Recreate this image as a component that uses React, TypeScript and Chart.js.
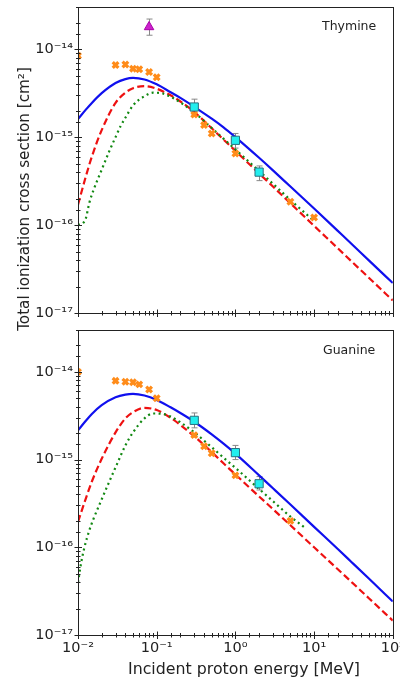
import React, { useEffect, useRef } from "react";
import { Chart, registerables } from "chart.js";

Chart.register(...registerables);

// ---------- Thymine ----------
const T_BLUE_E = [0.01, 0.0125, 0.015, 0.02, 0.03, 0.04, 0.05, 0.07, 0.1, 0.15, 0.2, 0.3, 0.5, 0.7, 1, 2, 3, 5, 10, 20, 30, 50, 100];
const T_BLUE_S = [1.6e-15, 2.04e-15, 2.45e-15, 3.16e-15, 4.12e-15, 4.57e-15, 4.71e-15, 4.52e-15, 3.98e-15, 3.24e-15, 2.79e-15, 2.21e-15, 1.62e-15, 1.3e-15, 1.0e-15, 5.82e-16, 4.19e-16, 2.74e-16, 1.54e-16, 8.59e-17, 6.1e-17, 3.94e-17, 2.19e-17];
const T_RED_E = [0.01, 0.0125, 0.015, 0.02, 0.03, 0.04, 0.05, 0.07, 0.1, 0.15, 0.2, 0.3, 0.5, 0.7, 1, 2, 3, 5, 10, 20, 30, 50, 100];
const T_RED_S = [1.7e-16, 3.5e-16, 6.0e-16, 1.2e-15, 2.45e-15, 3.2e-15, 3.6e-15, 3.8e-15, 3.55e-15, 2.99e-15, 2.54e-15, 1.93e-15, 1.26e-15, 9.44e-16, 6.97e-16, 3.86e-16, 2.74e-16, 1.77e-16, 9.8e-17, 5.44e-17, 3.85e-17, 2.5e-17, 1.39e-17];
const T_GREEN_E = [0.01, 0.0115, 0.0125, 0.014, 0.016, 0.019, 0.025, 0.03, 0.035, 0.04, 0.05, 0.07, 0.09, 0.12, 0.15, 0.2, 0.3, 0.5, 0.7, 1, 2, 3, 5, 10];
const T_GREEN_S = [1.0e-16, 1.05e-16, 1.17e-16, 1.82e-16, 2.6e-16, 3.8e-16, 6.92e-16, 1.0e-15, 1.35e-15, 1.66e-15, 2.29e-15, 2.92e-15, 3.2e-15, 3.13e-15, 2.88e-15, 2.48e-15, 1.91e-15, 1.27e-15, 9.66e-16, 7.24e-16, 4.12e-16, 2.95e-16, 1.93e-16, 1.11e-16];
const T_ORANGE_E = [0.01, 0.03, 0.04, 0.05, 0.06, 0.08, 0.1, 0.3, 0.4, 0.5, 1, 5, 10];
const T_ORANGE_S = [8.4e-15, 6.6e-15, 6.7e-15, 6.0e-15, 5.9e-15, 5.5e-15, 4.8e-15, 1.8e-15, 1.37e-15, 1.1e-15, 6.5e-16, 1.84e-16, 1.22e-16];
const T_CYAN_E = [0.3, 1, 2];
const T_CYAN_S = [2.2e-15, 9.2e-16, 4.0e-16];
const T_CYAN_LO = [1.8e-15, 7.5e-16, 3.2e-16];
const T_CYAN_HI = [2.7e-15, 1.1e-15, 4.7e-16];
const T_MAG_E = [0.08];
const T_MAG_S = [1.79e-14];
const T_MAG_LO = [1.44e-14];
const T_MAG_HI = [2.2e-14];

// ---------- Guanine ----------
const G_BLUE_E = [0.01, 0.0125, 0.015, 0.02, 0.03, 0.04, 0.05, 0.07, 0.1, 0.15, 0.2, 0.3, 0.5, 0.7, 1, 2, 3, 5, 10, 20, 30, 50, 100];
const G_BLUE_S = [2.15e-15, 2.75e-15, 3.31e-15, 4.17e-15, 5.13e-15, 5.5e-15, 5.6e-15, 5.37e-15, 4.79e-15, 3.94e-15, 3.39e-15, 2.7e-15, 1.94e-15, 1.53e-15, 1.17e-15, 6.61e-16, 4.71e-16, 3.07e-16, 1.71e-16, 9.55e-17, 6.76e-17, 4.37e-17, 2.41e-17];
const G_RED_E = [0.01, 0.0125, 0.015, 0.02, 0.03, 0.04, 0.05, 0.07, 0.1, 0.15, 0.2, 0.3, 0.5, 0.7, 1, 2, 3, 5, 10, 20, 30, 50, 100];
const G_RED_S = [1.95e-16, 3.55e-16, 5.62e-16, 1.02e-15, 2.04e-15, 2.95e-15, 3.47e-15, 3.89e-15, 3.67e-15, 2.99e-15, 2.48e-15, 1.84e-15, 1.22e-15, 9.12e-16, 6.76e-16, 3.8e-16, 2.72e-16, 1.78e-16, 1.0e-16, 5.62e-17, 4.01e-17, 2.61e-17, 1.46e-17];
const G_GREEN_E = [0.01, 0.011, 0.012, 0.014, 0.016, 0.019, 0.025, 0.031, 0.04, 0.05, 0.07, 0.09, 0.12, 0.15, 0.2, 0.3, 0.5, 0.7, 1, 2, 3, 5, 8];
const G_GREEN_S = [3.98e-17, 6.76e-17, 9.77e-17, 1.58e-16, 2.19e-16, 3.16e-16, 5.62e-16, 8.71e-16, 1.45e-15, 2.04e-15, 2.95e-15, 3.35e-15, 3.31e-15, 3.09e-15, 2.66e-15, 2.04e-15, 1.38e-15, 1.06e-15, 8.04e-16, 4.62e-16, 3.35e-16, 2.24e-16, 1.62e-16];
const G_ORANGE_E = [0.01, 0.03, 0.04, 0.05, 0.06, 0.08, 0.1, 0.3, 0.4, 0.5, 1, 5];
const G_ORANGE_S = [1.0e-14, 7.9e-15, 7.7e-15, 7.6e-15, 7.2e-15, 6.3e-15, 5.0e-15, 1.9e-15, 1.42e-15, 1.18e-15, 6.6e-16, 2.0e-16];
const G_CYAN_E = [0.3, 1, 2];
const G_CYAN_S = [2.8e-15, 1.2e-15, 5.3e-16];
const G_CYAN_LO = [2.3e-15, 1.0e-15, 4.5e-16];
const G_CYAN_HI = [3.4e-15, 1.45e-15, 6.4e-16];

// axis limits and labels
const X_MIN = 0.01;
const X_MAX = 100;
const Y_MIN = 1e-17;
const Y_MAX = 3e-14;
const PANEL_LABELS = ["Thymine", "Guanine"];
const X_TITLE = "Incident proton energy [MeV]";
const Y_TITLE = "Total ionization cross section [cm\u00B2]";

const FONT = "'DejaVu Sans', sans-serif";
const SUP: Record<string, string> = { "-": "\u207B", "0": "\u2070", "1": "\u00B9", "2": "\u00B2", "3": "\u00B3", "4": "\u2074", "5": "\u2075", "6": "\u2076", "7": "\u2077", "8": "\u2078", "9": "\u2079" };
const sup = (s: string) => s.split("").map((c) => SUP[c] ?? c).join("");
const isDecade = (v: number) => {
  const l = Math.log10(v);
  return Math.abs(l - Math.round(l)) < 1e-6;
};
const decadeLabel = (v: number) => (isDecade(v) ? "10" + sup(String(Math.round(Math.log10(v)))) : "");

const pts = (xs: number[], ys: number[]) => xs.map((x, i) => ({ x, y: ys[i] }));

const axesPlugin = {
  id: "axesFrame",
  beforeDatasetsDraw(chart: any) {
    const { ctx } = chart;
    const xs = chart.scales.x;
    const ys = chart.scales.y;
    ctx.save();
    ctx.strokeStyle = "#888888";
    ctx.lineWidth = 1;
    chart.data.datasets.forEach((ds: any) => {
      if (!ds.errLo) return;
      ds.data.forEach((p: any, i: number) => {
        const px = Math.round(xs.getPixelForValue(p.x)) + 0.5;
        const y1 = ys.getPixelForValue(ds.errLo[i]);
        const y2 = ys.getPixelForValue(ds.errHi[i]);
        ctx.beginPath();
        ctx.moveTo(px, y1);
        ctx.lineTo(px, y2);
        ctx.moveTo(px - 3, y1);
        ctx.lineTo(px + 3, y1);
        ctx.moveTo(px - 3, y2);
        ctx.lineTo(px + 3, y2);
        ctx.stroke();
      });
    });
    ctx.restore();
  },
  afterDraw(chart: any) {
    const { ctx, chartArea: a } = chart;
    const xs = chart.scales.x;
    const ys = chart.scales.y;
    ctx.save();
    ctx.strokeStyle = "#222222";
    ctx.lineWidth = 1;
    ctx.strokeRect(Math.round(a.left) + 0.5, Math.round(a.top) + 0.5, Math.round(a.right - a.left), Math.round(a.bottom - a.top));
    ctx.beginPath();
    xs.ticks.forEach((t: any) => {
      const px = Math.round(xs.getPixelForValue(t.value)) + 0.5;
      const len = isDecade(t.value) ? 3.5 : 2;
      ctx.moveTo(px, a.bottom - len);
      ctx.lineTo(px, a.bottom + len + 0.5);
    });
    ys.ticks.forEach((t: any) => {
      const py = Math.round(ys.getPixelForValue(t.value)) + 0.5;
      const len = isDecade(t.value) ? 3.5 : 2;
      ctx.moveTo(a.left - len, py);
      ctx.lineTo(a.left + len + 0.5, py);
    });
    ctx.stroke();
    ctx.restore();
  },
};

type Panel = {
  blue: [number[], number[]];
  red: [number[], number[]];
  green: [number[], number[]];
  orange: [number[], number[]];
  cyan: [number[], number[], number[], number[]];
  mag?: [number[], number[], number[], number[]];
};

function makeConfig(p: Panel, showXLabels: boolean, xHeight: number, topPad: number): any {
  const datasets: any[] = [];
  if (p.mag) {
    datasets.push({
      data: pts(p.mag[0], p.mag[1]),
      errLo: p.mag[2],
      errHi: p.mag[3],
      pointStyle: "triangle",
      pointRadius: 5.5,
      backgroundColor: "#cc22cc",
      borderColor: "#aa00aa",
      borderWidth: 1,
      showLine: false,
    });
  }
  datasets.push({
    data: pts(p.cyan[0], p.cyan[1]),
    errLo: p.cyan[2],
    errHi: p.cyan[3],
    pointStyle: "rect",
    pointRadius: 5.8,
    backgroundColor: "#22eeee",
    borderColor: "#2a7080",
    borderWidth: 1,
    showLine: false,
  });
  datasets.push({
    data: pts(p.orange[0], p.orange[1]),
    pointStyle: "crossRot",
    pointRadius: 4,
    borderColor: "#ff8c1a",
    backgroundColor: "#ff8c1a",
    borderWidth: 3.2,
    showLine: false,
  });
  datasets.push({
    data: pts(p.green[0], p.green[1]),
    showLine: true,
    pointRadius: 0,
    borderColor: "#118811",
    borderWidth: 2.2,
    borderDash: [2, 3.4],
    cubicInterpolationMode: "monotone",
  });
  datasets.push({
    data: pts(p.red[0], p.red[1]),
    showLine: true,
    pointRadius: 0,
    borderColor: "#ee1111",
    borderWidth: 2.2,
    borderDash: [7, 3.5],
    cubicInterpolationMode: "monotone",
  });
  datasets.push({
    data: pts(p.blue[0], p.blue[1]),
    showLine: true,
    pointRadius: 0,
    borderColor: "#1010ee",
    borderWidth: 2.2,
    cubicInterpolationMode: "monotone",
  });

  return {
    type: "scatter",
    data: { datasets },
    options: {
      animation: false,
      responsive: false,
      devicePixelRatio: 1,
      layout: { padding: { top: topPad, right: 7, left: 0, bottom: 0 } },
      plugins: { legend: { display: false }, tooltip: { enabled: false } },
      scales: {
        x: {
          type: "logarithmic",
          min: X_MIN,
          max: X_MAX,
          grid: { display: false, drawTicks: false },
          border: { display: false },
          ticks: {
            display: showXLabels,
            autoSkip: false,
            maxRotation: 0,
            padding: 5,
            color: "#222222",
            font: { family: FONT, size: 14.5 },
            callback: (v: any) => decadeLabel(Number(v)),
          },
          afterFit: (s: any) => {
            s.height = xHeight;
            s.paddingLeft = 0;
            s.paddingRight = 0;
          },
        },
        y: {
          type: "logarithmic",
          min: Y_MIN,
          max: Y_MAX,
          grid: { display: false, drawTicks: false },
          border: { display: false },
          ticks: {
            autoSkip: false,
            padding: 5,
            color: "#222222",
            font: { family: FONT, size: 14.5 },
            callback: (v: any) => decadeLabel(Number(v)),
          },
          afterFit: (s: any) => {
            s.width = 78;
            s.paddingTop = 0;
            s.paddingBottom = 0;
          },
        },
      },
    },
    plugins: [axesPlugin],
  };
}

export default function App() {
  const ref1 = useRef<HTMLCanvasElement>(null);
  const ref2 = useRef<HTMLCanvasElement>(null);

  useEffect(() => {
    const c1 = new Chart(
      ref1.current!,
      makeConfig(
        {
          blue: [T_BLUE_E, T_BLUE_S],
          red: [T_RED_E, T_RED_S],
          green: [T_GREEN_E, T_GREEN_S],
          orange: [T_ORANGE_E, T_ORANGE_S],
          cyan: [T_CYAN_E, T_CYAN_S, T_CYAN_LO, T_CYAN_HI],
          mag: [T_MAG_E, T_MAG_S, T_MAG_LO, T_MAG_HI],
        },
        false,
        9,
        6
      )
    );
    const c2 = new Chart(
      ref2.current!,
      makeConfig(
        {
          blue: [G_BLUE_E, G_BLUE_S],
          red: [G_RED_E, G_RED_S],
          green: [G_GREEN_E, G_GREEN_S],
          orange: [G_ORANGE_E, G_ORANGE_S],
          cyan: [G_CYAN_E, G_CYAN_S, G_CYAN_LO, G_CYAN_HI],
        },
        true,
        44,
        8
      )
    );
    return () => {
      c1.destroy();
      c2.destroy();
    };
  }, []);

  const labelStyle: React.CSSProperties = {
    position: "absolute",
    fontFamily: FONT,
    fontSize: 12.5,
    color: "#222",
    whiteSpace: "nowrap",
  };

  return (
    <div style={{ position: "absolute", left: 0, top: 0, width: 400, height: 679, overflow: "hidden", background: "#fff" }}>
      <canvas ref={ref1} width={400} height={322} style={{ position: "absolute", left: 0, top: 0, width: 400, height: 322 }} />
      <canvas ref={ref2} width={400} height={357} style={{ position: "absolute", left: 0, top: 322, width: 400, height: 357 }} />
      <div style={{ ...labelStyle, left: 322, top: 18 }}>{PANEL_LABELS[0]}</div>
      <div style={{ ...labelStyle, left: 323, top: 342 }}>{PANEL_LABELS[1]}</div>
      <div
        style={{
          position: "absolute",
          left: 24 - 200,
          top: 199 - 10,
          width: 400,
          height: 20,
          lineHeight: "20px",
          textAlign: "center",
          fontFamily: FONT,
          fontSize: 15.2,
          color: "#222",
          transform: "rotate(-90deg)",
          transformOrigin: "50% 50%",
          whiteSpace: "nowrap",
        }}
      >
        {Y_TITLE}
      </div>
      <div
        style={{
          position: "absolute",
          left: 244 - 200,
          top: 669 - 10,
          width: 400,
          height: 20,
          lineHeight: "20px",
          textAlign: "center",
          fontFamily: FONT,
          fontSize: 15.8,
          color: "#222",
          whiteSpace: "nowrap",
        }}
      >
        {X_TITLE}
      </div>
    </div>
  );
}
